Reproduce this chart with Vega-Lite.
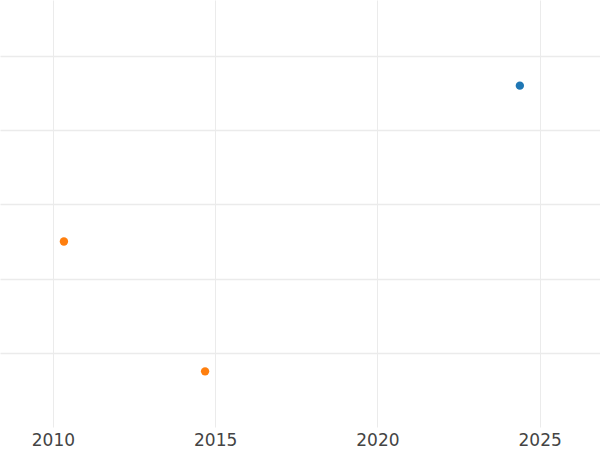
{
  "$schema": "https://vega.github.io/schema/vega-lite/v6.json",
  "width": 600,
  "height": 427,
  "padding": {"top": 0, "left": 0, "right": 0, "bottom": 23},
  "autosize": {"type": "none"},
  "background": "white",
  "config": {"view": {"stroke": null}},
  "data": {"values": [
    {"year": 2024.39, "value": 4.60, "series": "A"},
    {"year": 2010.34, "value": 2.50, "series": "B"},
    {"year": 2014.69, "value": 0.75, "series": "B"}
  ]},
  "mark": {"type": "point", "filled": true, "opacity": 1, "size": 70},
  "encoding": {
    "x": {"field": "year", "type": "quantitative",
      "scale": {"domain": [2008.37, 2026.86], "nice": false, "zero": false},
      "axis": {"values": [2010, 2015, 2020, 2025], "format": "d", "title": null, "domain": false, "ticks": false,
        "grid": true, "gridColor": "#ebebeb", "gridWidth": 1,
        "labelFont": "DejaVu Sans", "labelFontSize": 17, "labelColor": "#444444", "labelPadding": 5}},
    "y": {"field": "value", "type": "quantitative",
      "scale": {"domain": [0, 5.754], "nice": false, "zero": false},
      "axis": {"values": [1, 2, 3, 4, 5], "title": null, "domain": false, "ticks": false, "labels": false,
        "grid": true, "gridColor": "#ebebeb", "gridWidth": 1.5}},
    "color": {"field": "series", "type": "nominal",
      "scale": {"domain": ["A", "B"], "range": ["#1f77b4", "#ff7f0e"]}, "legend": null}
  }
}
